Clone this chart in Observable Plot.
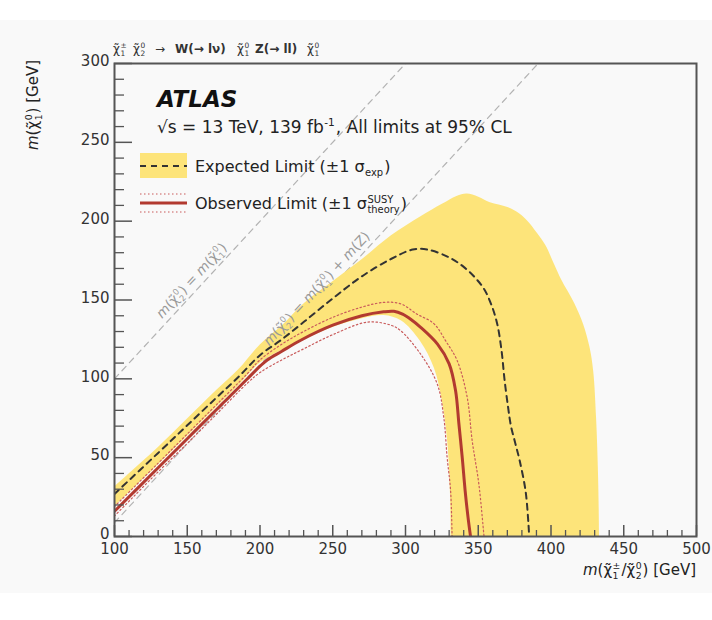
<!DOCTYPE html>
<html><head><meta charset="utf-8">
<script src="https://cdn.jsdelivr.net/npm/d3@7"></script>
<script src="https://cdn.jsdelivr.net/npm/@observablehq/plot@0.6"></script>
<style>body{margin:0;background:#fff;} svg text{white-space:pre;}</style>
</head><body><div id="chart"></div>
<script>
// ---------- data (GeV) ----------
const expX = [100,130,150,170,185,200,215,230,250,270,290,305,315,330,340,348,354,359,363,366,368,370.5,372.5,375.5,378.5,382.5,384.5,385];
const expY = [27,53,70.5,88,101,115,125,136,151,165,176,182,182,177,171,164,157,147,135,118,100,82,70,59,48,29,8,0];

const bandUpX = [100,130,150,170,185,200,215,230,250,270,290,310,325,335,342,350,358,370,378,384,390,396,402,407,416,422,426.5,429,431,432.3,433,433];
const bandUpY = [32,57,75,93,106,122,134,148,162,176,191,203,211,216,217.5,215.5,212,209,205,200,193,185,173,163,148,135,120,105,75,40,0,-20];
const bandLoX = [100,130,150,170,185,200,215,230,250,270,285,297,310,319.5,325,328.6,330.5,331,331];
const bandLoY = [19.5,46,64,82.5,96,110.5,118.5,125,133,138.5,140.5,137,124,107,86,61,29,0,-20];

const obsX = [100,130,150,170,185,191,200,205,215,228,250,270,285,292,298,304,310,322,330,334.4,336.7,339,341,343,344.7];
const obsY = [16,43.6,62,80.4,94.2,99.7,108,112,117.5,124.5,134,140,142.5,142.8,141,137.5,133,122,109.5,92.6,71.5,50,29,12,0];

const obsUpX = [100,130,150,170,191,200,215,230,250,270,285,296.6,308,319.5,328,335.5,342.4,345.8,350.4,353.8,354];
const obsUpY = [19,46.5,65,83.5,103,112,122,130,139,145.5,148.5,147.6,141,135,123.5,111.6,88.3,61,33.4,1.7,0];

const obsDnX = [100,130,150,170,191,200,215,230,250,274,290,296.6,310.3,321.8,326.3,328.6,331,332];
const obsDnY = [13,41,59,77.5,97,104,112,119,128,136,134,130.6,115.8,96.8,75.6,50.3,29,0];

const diag1X = [100, 300], diag1Y = [100, 300];        // m(chi2) = m(chi1)
const diag2X = [100, 391.2], diag2Y = [8.8, 300];      // m(chi2) = m(chi1) + m(Z)

const xMajor = [100,150,200,250,300,350,400,450,500];
const xTickLabels = ["100","150","200","250","300","350","400","450","500"];
const yMajor = [0,50,100,150,200,250,300];
const yTickLabels = ["0","50","100","150","200","250","300"];
const xMinor = d3.range(100, 501, 10).filter(v => v % 50 !== 0);
const yMinor = d3.range(0, 301, 10).filter(v => v % 50 !== 0);

// ---------- layout ----------
const W = 712, H = 620;
const mL = 114, mR = 16, mT = 63, mB = 84;
const plotW = W - mL - mR, plotH = H - mT - mB;
const YELLOW = "#fde47a", RED = "#b23a30", PINK = "#c95b5b", DASH = "#333", GRID = "#b3b3b3", AX = "#555";

const pts = (xs, ys) => xs.map((x, i) => ({x, y: ys[i]}));
const band = [...pts(bandUpX, bandUpY), ...pts(bandLoX, bandLoY).reverse()];

const plot = Plot.plot({
  width: W, height: H,
  marginLeft: mL, marginRight: mR, marginTop: mT, marginBottom: mB,
  x: {domain: [100, 500], axis: null},
  y: {domain: [0, 300], axis: null},
  style: {background: "transparent", fontFamily: "DejaVu Sans", color: "#333"},
  marks: [
    Plot.line(pts(diag1X, diag1Y), {x: "x", y: "y", stroke: GRID, strokeWidth: 1.2, strokeDasharray: "6,5", clip: true}),
    Plot.line(pts(diag2X, diag2Y), {x: "x", y: "y", stroke: GRID, strokeWidth: 1.2, strokeDasharray: "6,5", clip: true}),
    Plot.line(band, {x: "x", y: "y", fill: YELLOW, stroke: "none", curve: "catmull-rom", clip: true}),
    Plot.line(pts(expX, expY), {x: "x", y: "y", stroke: DASH, strokeWidth: 2, strokeDasharray: "6,5", curve: "catmull-rom", clip: true}),
    Plot.line(pts(obsUpX, obsUpY), {x: "x", y: "y", stroke: PINK, strokeWidth: 1.2, strokeDasharray: "1.5,2.5", curve: "catmull-rom", clip: true}),
    Plot.line(pts(obsDnX, obsDnY), {x: "x", y: "y", stroke: PINK, strokeWidth: 1.2, strokeDasharray: "1.5,2.5", curve: "catmull-rom", clip: true}),
    Plot.line(pts(obsX, obsY), {x: "x", y: "y", stroke: RED, strokeWidth: 3, curve: "catmull-rom", clip: true}),
    Plot.tickX(xMinor, {x: d => d, insetTop: plotH - 6, stroke: AX, strokeWidth: 1.3}),
    Plot.tickX(xMajor, {x: d => d, insetTop: plotH - 11, stroke: AX, strokeWidth: 1.5}),
    Plot.tickY(yMinor, {y: d => d, insetRight: plotW - 10, stroke: AX, strokeWidth: 1.3}),
    Plot.tickY(yMajor, {y: d => d, insetRight: plotW - 18, stroke: AX, strokeWidth: 1.5}),
    Plot.frame({stroke: AX, strokeWidth: 2}),
    Plot.text(xMajor, {x: d => d, text: (d, i) => xTickLabels[i], frameAnchor: "bottom", lineAnchor: "top", dy: 7, fontSize: 15, fill: "#333"}),
    Plot.text(yMajor, {y: d => d, text: (d, i) => yTickLabels[i], frameAnchor: "left", textAnchor: "end", dx: -5, dy: -2, fontSize: 15, fill: "#333"})
  ]
});
document.getElementById("chart").append(plot);
const svg = d3.select(plot);
svg.insert("rect", ":first-child").attr("x", 0).attr("y", 20).attr("width", W).attr("height", 573).attr("fill", "#f9f9f9");

// ---------- rich text helper (sub/superscripts) ----------
function rich(parent, x, y, segs, {size = 16, anchor = "start", rotate = 0, fill = "#222", weight = "normal", italic = false, dy = 0} = {}) {
  const g = parent.append("g").attr("transform", `translate(${x},${y}) rotate(${rotate})`);
  const inner = g.append("g");
  let cx = 0;
  const mk = (t, px, py, fs, o = {}) => inner.append("text")
    .attr("x", px).attr("y", py).attr("font-size", fs)
    .attr("text-anchor", "start")
    .attr("font-family", "DejaVu Sans").attr("fill", fill)
    .attr("font-weight", o.weight || weight)
    .attr("font-style", (o.italic ?? italic) ? "italic" : "normal")
    .text(t);
  for (const s of segs) {
    if (typeof s === "string" || s.t !== undefined) {
      const o = typeof s === "string" ? {t: s} : s;
      const el = mk(o.t, cx, 0, o.size || size, o);
      cx += el.node().getComputedTextLength();
    } else {
      const fs = size * 0.62;
      let w = 0;
      if (s.sup != null) w = Math.max(w, mk(s.sup, cx + 0.5, -size * 0.40, fs).node().getComputedTextLength());
      if (s.sub != null) w = Math.max(w, mk(s.sub, cx + 0.5, size * 0.28, fs).node().getComputedTextLength());
      cx += w + 1.5;
    }
  }
  const off = anchor === "end" ? -cx : anchor === "middle" ? -cx / 2 : 0;
  inner.attr("transform", `translate(${off},${dy})`);
  return cx;
}
const chi = (sub, sup) => [{t: "χ\u0303"}, {sub, sup}];
const mI = {t: "m", italic: true};

// axis titles
rich(svg, 696, 575, [mI, "(", ...chi("1", "±"), "/", ...chi("2", "0"), ") [GeV]"], {size: 15, anchor: "end"});
rich(svg, 38, 60, [mI, "(", ...chi("1", "0"), ") [GeV]"], {size: 15, anchor: "end", rotate: -90});

// process label on top
const procParts = [
  [113, chi("1", "±")], [133, chi("2", "0")], [155, ["→"]], [175, [{t: "W(→ lν)", weight: "bold"}]],
  [237, chi("1", "0")], [255, [{t: "Z(→ ll)", weight: "bold"}]], [307, chi("1", "0")]
];
for (const [px, segs] of procParts) rich(svg, px, 53, segs, {size: 12, fill: "#333"});

// ATLAS label
rich(svg, 157, 107, [{t: "ATLAS", weight: "bold", italic: true}], {size: 23, fill: "#111"});
rich(svg, 157, 133, ["√s = 13 TeV, 139 fb", {sup: "-1"}, ", All limits at 95% CL"], {size: 17});

// legend
const lg = svg.append("g");
lg.append("rect").attr("x", 140).attr("y", 153).attr("width", 47).attr("height", 25).attr("fill", YELLOW);
lg.append("line").attr("x1", 140).attr("x2", 187).attr("y1", 166).attr("y2", 166).attr("stroke", DASH).attr("stroke-width", 2).attr("stroke-dasharray", "6,5");
rich(svg, 195, 172, ["Expected Limit (±1 σ", {sub: "exp"}, ")"], {size: 16});
for (const yy of [194, 212]) lg.append("line").attr("x1", 140).attr("x2", 187).attr("y1", yy).attr("y2", yy).attr("stroke", PINK).attr("stroke-width", 1.2).attr("stroke-dasharray", "1.5,2.5");
lg.append("line").attr("x1", 140).attr("x2", 187).attr("y1", 203).attr("y2", 203).attr("stroke", RED).attr("stroke-width", 3);
rich(svg, 195, 209, ["Observed Limit (±1 σ", {sub: "theory", sup: "SUSY"}, ")"], {size: 16});

// diagonal labels
const xs = plot.scale("x"), ys = plot.scale("y");
const ang = Math.atan2(ys.apply(200) - ys.apply(100), xs.apply(200) - xs.apply(100)) * 180 / Math.PI;
const lab1 = 158, lab2 = 244;
rich(svg, xs.apply(lab1), ys.apply(lab1), [mI, "(", ...chi("2", "0"), ") = ", mI, "(", ...chi("1", "0"), ")"],
  {size: 13.5, fill: "#999", anchor: "middle", rotate: ang, dy: -5});
rich(svg, xs.apply(lab2), ys.apply(lab2 - 91.2), [mI, "(", ...chi("2", "0"), ") = ", mI, "(", ...chi("1", "0"), ") + ", mI, "(Z)"],
  {size: 13.5, fill: "#999", anchor: "middle", rotate: ang, dy: -5});
</script>
</body></html>
